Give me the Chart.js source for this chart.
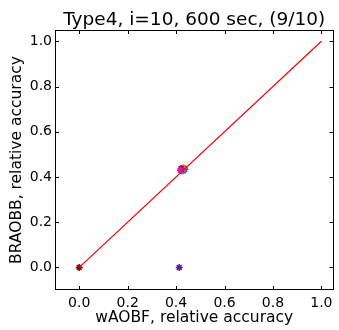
<!DOCTYPE html>
<html>
<head>
<meta charset="utf-8">
<script src="https://cdn.jsdelivr.net/npm/chart.js@4/dist/chart.umd.min.js"></script>
<style>
html,body{margin:0;padding:0;background:#fff;}
#wrap{width:339px;height:330px;position:relative;}
</style>
</head>
<body>
<div id="wrap"><canvas id="c" width="339" height="330"></canvas></div>
<script>
const titleText = "Type4, i=10, 600 sec, (9/10)";
const xLabel = "wAOBF, relative accuracy";
const yLabel = "BRAOBB, relative accuracy";
const xTicks = [0.0, 0.2, 0.4, 0.6, 0.8, 1.0];
const yTicks = [0.0, 0.2, 0.4, 0.6, 0.8, 1.0];
const diagX = [0, 1];
const diagY = [0, 1];
const wAOBF  = [0.000, 0.413, 0.418, 0.421, 0.424, 0.427, 0.429, 0.431, 0.433, 0.436];
const BRAOBB = [0.000, 0.000, 0.430, 0.436, 0.426, 0.441, 0.432, 0.428, 0.438, 0.434];
const colors = ["#8b0000", "#5a1aa0", "#ff00cc", "#1a237e", "#00a0a0", "#ff6a00", "#2e8b57", "#9b30d0", "#008b8b", "#e0004a"];

const datasets = [{
  type: 'scatter',
  data: diagX.map((x, i) => ({x: x, y: diagY[i]})),
  showLine: true,
  borderColor: '#ff0000',
  borderWidth: 1.2,
  pointRadius: 0,
  fill: false
}];
wAOBF.forEach((x, i) => {
  datasets.push({
    type: 'scatter',
    data: [{x: x, y: BRAOBB[i]}],
    pointStyle: 'star',
    pointRadius: 3.5,
    borderColor: colors[i],
    backgroundColor: colors[i],
    borderWidth: 1.5
  });
});

const frame = {
  id: 'frame',
  afterDraw(chart) {
    const {ctx, chartArea: a, scales} = chart;
    ctx.save();
    ctx.strokeStyle = '#000';
    ctx.lineWidth = 1;
    ctx.strokeRect(Math.round(a.left) + 0.5, Math.round(a.top) + 0.5, Math.round(a.right - a.left) - 1, Math.round(a.bottom - a.top) - 1);
    const L = 4;
    ctx.beginPath();
    xTicks.forEach(v => {
      const p = Math.round(scales.x.getPixelForValue(v)) + 0.5;
      ctx.moveTo(p, a.bottom); ctx.lineTo(p, a.bottom - L);
      ctx.moveTo(p, a.top); ctx.lineTo(p, a.top + L);
    });
    yTicks.forEach(v => {
      const p = Math.round(scales.y.getPixelForValue(v)) + 0.5;
      ctx.moveTo(a.left, p); ctx.lineTo(a.left + L, p);
      ctx.moveTo(a.right, p); ctx.lineTo(a.right - L, p);
    });
    ctx.stroke();
    ctx.fillStyle = '#000';
    ctx.font = '18.5px "DejaVu Sans"';
    ctx.textAlign = 'center';
    ctx.textBaseline = 'alphabetic';
    ctx.fillText(titleText, (a.left + a.right) / 2, 25);
    ctx.restore();
  }
};

new Chart(document.getElementById('c'), {
  type: 'scatter',
  data: {datasets},
  options: {
    responsive: false,
    animation: false,
    layout: {padding: {left: 0, right: 3, top: 30, bottom: 0}},
    plugins: {legend: {display: false}, tooltip: {enabled: false}, title: {display: false}},
    scales: {
      x: {
        type: 'linear', min: -0.1, max: 1.05,
        afterBuildTicks: s => { s.ticks = xTicks.map(v => ({value: v})); },
        afterFit: s => { s.height = 40; s.paddingLeft = 0; s.paddingRight = 0; },
        grid: {display: false, drawTicks: false},
        border: {display: false},
        ticks: {color: '#000', font: {family: 'DejaVu Sans', size: 14}, padding: 5, maxRotation: 0,
          callback: v => Number(v).toFixed(1)},
        title: {display: true, text: xLabel, color: '#000', font: {family: 'DejaVu Sans', size: 15.5}, padding: {top: 0, bottom: 3}}
      },
      y: {
        type: 'linear', min: -0.1, max: 1.05,
        afterBuildTicks: s => { s.ticks = yTicks.map(v => ({value: v})); },
        afterFit: s => { s.width = 55; s.paddingTop = 0; s.paddingBottom = 0; },
        grid: {display: false, drawTicks: false},
        border: {display: false},
        ticks: {color: '#000', font: {family: 'DejaVu Sans', size: 14}, padding: 3,
          callback: v => Number(v).toFixed(1)},
        title: {display: true, text: yLabel, color: '#000', font: {family: 'DejaVu Sans', size: 15.5}, padding: {top: 8, bottom: 0}}
      }
    }
  },
  plugins: [frame]
});
</script>
</body>
</html>
